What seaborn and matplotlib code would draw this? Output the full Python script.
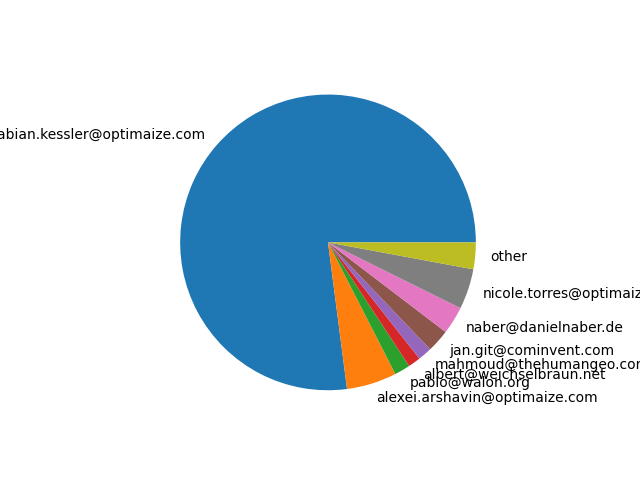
import matplotlib
matplotlib.use("Agg")
import seaborn as sns
from matplotlib import pyplot as plt

authors = ["fabian.kessler@optimaize.com", "alexei.arshavin@optimaize.com",
           "pablo@walon.org", "albert@weichselbraun.net",
           "mahmoud@thehumangeo.com", "jan.git@cominvent.com",
           "naber@danielnaber.de", "nicole.torres@optimaize.com", "other"]
commits = [277.4, 19.7, 6.2, 4.9, 5.5, 9.0, 10.9, 15.9, 10.5]

colors = sns.color_palette("tab10", len(authors))
fig, ax = plt.subplots(figsize=(6.4, 4.8), dpi=100)
ax.pie(commits, labels=authors, colors=colors)
fig.savefig("out.png")
